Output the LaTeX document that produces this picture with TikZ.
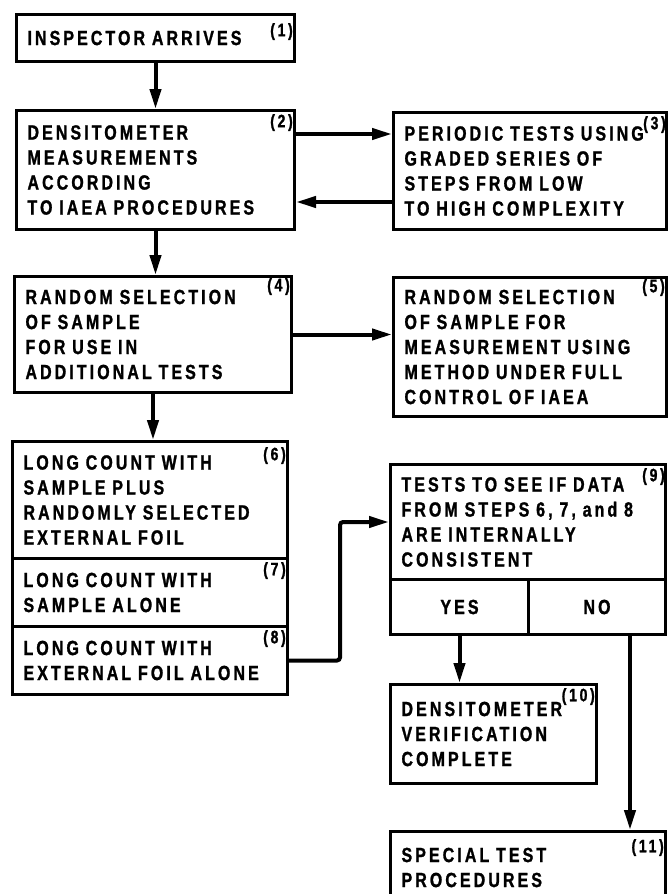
\documentclass[tikz,border=0pt]{standalone}
\usepackage{fontspec}
\setmainfont{Liberation Sans}[FakeStretch=0.78,LetterSpace=15,BoldFeatures={FakeBold=1.2}]
\usetikzlibrary{arrows.meta,positioning,calc}
\newcommand{\boxfont}{\bfseries\fontsize{20.5}{25}\selectfont}
\newcommand{\numfont}{\bfseries\fontsize{18}{18}\selectfont}
\tikzset{
  block/.style={
    draw=black,
    line width=3pt,
    anchor=north west,
    align=left,
    inner xsep=11pt,
    inner ysep=0pt,
    font=\boxfont
  },
  answer/.style={block, align=center},
  num/.style={anchor=north east, inner xsep=3pt, inner ysep=5pt, font=\numfont},
  line/.style={-{Triangle[length=20pt,width=11pt]}, line width=4pt}
}

\begin{document}
\begin{tikzpicture}[x=1pt, y=-1pt]
        \useasboundingbox (0,0) rectangle (668,894);
        \clip (0,0) rectangle (668,894);
        % left column
        \node[block, minimum width=278pt, minimum height=47pt, text width=256pt] (arrive) at (15,13) {INSPECTOR ARRIVES};
        \node[block, minimum width=278pt, minimum height=119pt, text width=256pt] (dens) at (15,109) {DENSITOMETER\\MEASUREMENTS\\ACCORDING\\TO IAEA PROCEDURES};
        \node[block, minimum width=277pt, minimum height=116pt, text width=255pt] (rand) at (13,275) {RANDOM SELECTION\\OF SAMPLE\\FOR USE IN\\ADDITIONAL TESTS};
        \node[block, minimum width=275pt, minimum height=117pt, text width=253pt] (sampfoil) at (11,440) {LONG COUNT WITH\\SAMPLE PLUS\\RANDOMLY SELECTED\\EXTERNAL FOIL};
        \node[block, minimum width=275pt, minimum height=68pt, text width=253pt] (samp) at (11,557) {LONG COUNT WITH\\SAMPLE ALONE};
        \node[block, minimum width=275pt, minimum height=68pt, text width=253pt] (foil) at (11,625) {LONG COUNT WITH\\EXTERNAL FOIL ALONE};
        % right column
        \node[block, minimum width=273pt, minimum height=117pt, text width=251pt] (periodic) at (392,111) {PERIODIC TESTS USING\\GRADED SERIES OF\\STEPS FROM LOW\\TO HIGH COMPLEXITY};
        \node[block, minimum width=273pt, minimum height=139pt, text width=251pt] (meas) at (392,276) {RANDOM SELECTION\\OF SAMPLE FOR\\MEASUREMENT USING\\METHOD UNDER FULL\\CONTROL OF IAEA};
        \node[block, minimum width=275pt, minimum height=115pt, text width=253pt] (test) at (389,463) {TESTS TO SEE IF DATA\\FROM STEPS 6, 7, and 8\\ARE INTERNALLY\\CONSISTENT};
        \node[answer, minimum width=138pt, minimum height=55pt] (yes) at (389,578) {YES};
        \node[answer, minimum width=137pt, minimum height=55pt] (no) at (527,578) {NO};
        \node[block, minimum width=206pt, minimum height=99pt, text width=184pt] (verif) at (389,683) {DENSITOMETER\\VERIFICATION\\COMPLETE};
        \node[block, minimum width=275pt, minimum height=72pt, text width=253pt] (special) at (389,830) {SPECIAL TEST\\PROCEDURES};
        % step numbers
        \node[num, inner ysep=10pt] (arrive-n) at (arrive.north east) {(1)};
        \node[num] (dens-n) at (dens.north east) {(2)};
        \node[num, inner xsep=2pt] (periodic-n) at (periodic.north east) {(3)};
        \node[num, inner ysep=3pt] (rand-n) at (rand.north east) {(4)};
        \node[num, inner ysep=3pt] (meas-n) at (meas.north east) {(5)};
        \node[num, inner ysep=7pt] (sampfoil-n) at (sampfoil.north east) {(6)};
        \node[num] (samp-n) at (samp.north east) {(7)};
        \node[num] (foil-n) at (foil.north east) {(8)};
        \node[num, inner xsep=2pt] (test-n) at (test.north east) {(9)};
        \node[num] (verif-n) at (verif.north east) {(10)};
        \node[num, inner ysep=9pt] (special-n) at (special.north east) {(11)};
        % connectors
        \draw[line] (arrive) -- (dens);
        \draw[line] ([yshift=36pt]dens.east) -- ([yshift=36pt]dens.east -| periodic.west);
        \draw[line] ([yshift=-31pt]periodic.west) -- ([yshift=-31pt]periodic.west -| dens.east);
        \draw[line] (dens.south) -- (dens.south |- rand.north);
        \draw[line] (rand.east) -- (rand.east -| meas.west);
        \draw[line] (rand.south) -- (rand.south |- sampfoil.north);
        \draw[line, rounded corners=3pt] (foil.east) -- ++(51,0) |- (test.west);
        \draw[line] (yes.south) -- (yes.south |- verif.north);
        \draw[line] ([xshift=33pt]no.south) -- ([xshift=33pt]no.south |- special.north);
      \end{tikzpicture}
\end{document}
